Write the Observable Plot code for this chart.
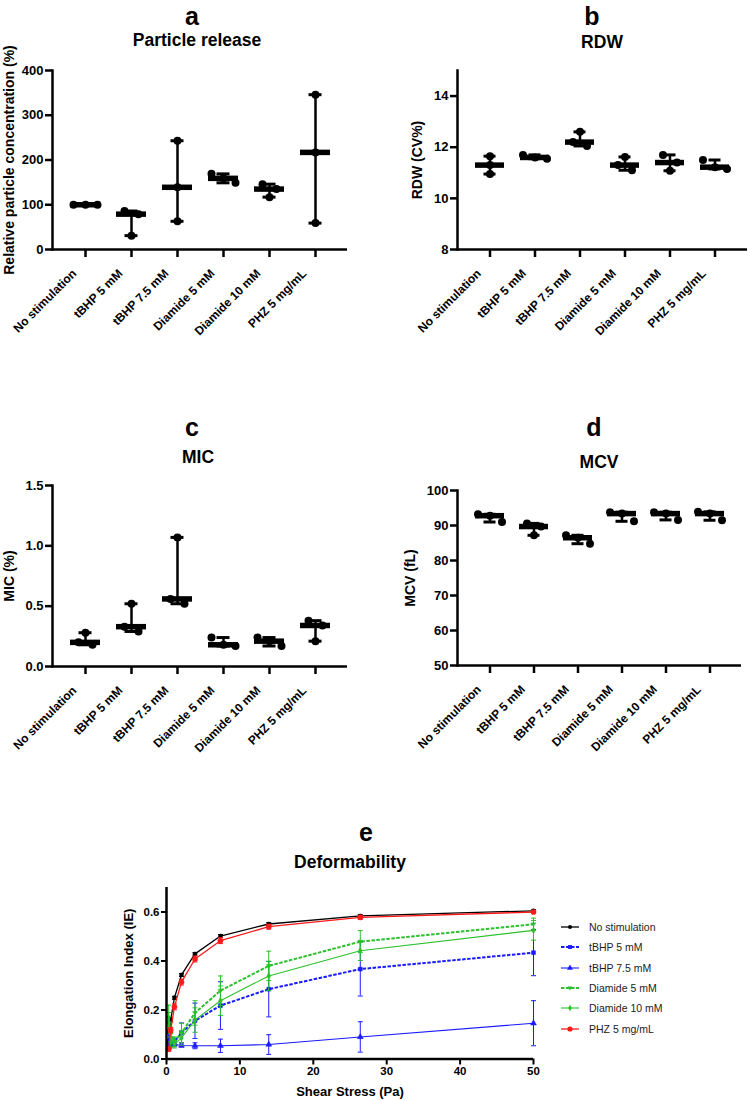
<!DOCTYPE html>
<html><head><meta charset="utf-8">
<script src="https://cdn.jsdelivr.net/npm/d3@7"></script>
<script src="https://cdn.jsdelivr.net/npm/@observablehq/plot@0.6"></script>
<style>
body{margin:0;background:#fff;font-family:"Liberation Sans",Arial,Helvetica,sans-serif;}
#page{position:relative;width:748px;height:1100px;overflow:hidden;background:#fff;}
.letter{position:absolute;font-weight:bold;font-size:25px;transform:translate(-50%,-50%);white-space:nowrap;line-height:1.15;color:#000;}
.sub{position:absolute;font-weight:bold;font-size:17.5px;transform:translate(-50%,-50%);white-space:nowrap;line-height:1.15;color:#000;}
.legend{position:absolute;font-size:10.5px;color:#222;}
.legend .row{display:flex;align-items:center;height:20.3px;}
.legend svg{margin-right:10px;}
</style></head>
<body><div id="page"></div>
<script>
// ---------- data ----------
const categories = ["No stimulation","tBHP 5 mM","tBHP 7.5 mM","Diamide 5 mM","Diamide 10 mM","PHZ 5 mg/mL"];
const particleRelease = [[100,100,100],[86,79,31],[243,139,63],[169,159,149],[146,135,117],[346,217,59]];
const rdw = [[11.65,11.3,10.95],[11.7,11.6,11.55],[12.6,12.2,12.05],[11.62,11.3,11.1],[11.7,11.4,11.08],[11.5,11.22,11.15]];
const mic = [[0.28,0.2,0.18],[0.52,0.33,0.29],[1.07,0.56,0.52],[0.24,0.18,0.17],[0.24,0.21,0.17],[0.38,0.34,0.21]];
const mcv = [[93.2,92.8,91.0],[90.6,89.7,87.2],[87.2,86.5,84.8],[93.8,93.4,91.2],[93.8,93.4,91.6],[93.9,93.4,91.5]];

const shearStress = [0.30,0.57,1.08,2.04,3.88,7.35,13.93,26.4,50];
const seriesNames = ["No stimulation","tBHP 5 mM","tBHP 7.5 mM","Diamide 5 mM","Diamide 10 mM","PHZ 5 mg/mL"];
const eiNoStim   = [0.07,0.159,0.25,0.343,0.429,0.502,0.551,0.584,0.605];
const sdNoStim   = [0.01,0.008,0.006,0.006,0.005,0.006,0.006,0.005,0.004];
const eiTbhp5    = [0.11,0.07,0.07,0.107,0.156,0.218,0.285,0.367,0.434];
const sdTbhp5    = [0.04,0.02,0.015,0.04,0.072,0.097,0.113,0.11,0.094];
const eiTbhp75   = [0.05,0.06,0.06,0.055,0.054,0.054,0.059,0.09,0.146];
const sdTbhp75   = [0.01,0.01,0.008,0.006,0.012,0.027,0.04,0.062,0.092];
const eiDiam5    = [0.17,0.10,0.07,0.106,0.188,0.279,0.38,0.479,0.55];
const sdDiam5    = [0.05,0.03,0.02,0.04,0.05,0.06,0.06,0.045,0.025];
const eiDiam10   = [0.15,0.07,0.06,0.086,0.159,0.238,0.339,0.442,0.525];
const sdDiam10   = [0.04,0.02,0.015,0.03,0.05,0.06,0.06,0.04,0.04];
const eiPhz      = [0.04,0.118,0.213,0.314,0.408,0.483,0.54,0.578,0.60];
const sdPhz      = [0.008,0.01,0.012,0.012,0.012,0.012,0.01,0.008,0.006];

// ---------- layout ----------
const FONT = '"Liberation Sans",Arial,Helvetica,sans-serif';
const page = document.getElementById("page");
function label(cls, text, x, y){ const d=document.createElement("div"); d.className=cls; d.textContent=text; d.style.left=x+"px"; d.style.top=y+"px"; page.appendChild(d); }

const INNER = 0.35;
function spreadOffsets(vals, pxPerUnit){
  // spread overlapping points horizontally (anti-overlap like the original software)
  const idx = vals.map((v,i)=>i).sort((a,b)=>vals[b]-vals[a]);
  const out = new Array(vals.length).fill(0);
  let cluster=[idx[0]];
  const clusters=[];
  for(let k=1;k<idx.length;k++){
    if(Math.abs(vals[idx[k-1]]-vals[idx[k]])*pxPerUnit < 8) cluster.push(idx[k]);
    else { clusters.push(cluster); cluster=[idx[k]]; }
  }
  clusters.push(cluster);
  for(const c of clusters){
    const offs = c.length===1?[0]:c.length===2?[-7,7]:[-12,0,12];
    c.forEach((i,j)=>out[i]=offs[j]);
  }
  return out;
}

function dotPanel(cfg){
  const fh = cfg.height - cfg.mT - cfg.mB;
  const pxPerUnit = fh/(cfg.domain[1]-cfg.domain[0]);
  const rows=[];
  categories.forEach((c,i)=>{
    const offs = spreadOffsets(cfg.values[i], pxPerUnit);
    cfg.values[i].forEach((v,j)=>rows.push({cat:c, v, off:offs[j]}));
  });
  const stats = categories.map((c,i)=>({cat:c, min:d3.min(cfg.values[i]), max:d3.max(cfg.values[i]), med:d3.median(cfg.values[i])}));
  const fw = cfg.width - cfg.mL - cfg.mR;
  const po = (fw/cfg.step - categories.length + INNER)/2;
  const offsets = Array.from(new Set(rows.map(r=>r.off)));
  const svg = Plot.plot({
    width: cfg.width, height: cfg.height,
    marginLeft: cfg.mL, marginRight: cfg.mR, marginTop: cfg.mT, marginBottom: cfg.mB,
    style: {fontFamily: FONT, fontSize: "12px", fontWeight: "bold", color: "#000", background: "transparent", overflow: "visible"},
    x: {type: "band", domain: categories, paddingInner: INNER, paddingOuter: po, label: null},
    y: {domain: cfg.domain, label: null},
    marks: [
      Plot.axisY({ticks: cfg.ticks, tickFormat: cfg.fmt, tickSize: 7, tickPadding: 2, strokeWidth: 2.5, fontSize: 13, label: null}),
      Plot.axisY({ticks: [], tickSize: 0, fontSize: 14, label: cfg.ylabel, labelAnchor: "center", labelArrow: "none", labelOffset: cfg.labelOffset}),
      Plot.axisX({tickSize: 8, tickFormat: () => "", strokeWidth: 2.5, label: null}),
      Plot.axisX({tickSize: 0, tickPadding: 10, tickRotate: -45, dx: -11, dy: 12, label: null}),
      Plot.frame({anchor: "left", strokeWidth: 2.5}),
      Plot.ruleY([cfg.domain[0]], {strokeWidth: 2.5}),
      Plot.ruleX(stats, {x: "cat", y1: "min", y2: "max", strokeWidth: 2.5}),
      Plot.tickY(stats, {x: "cat", y: "max", insetLeft: 8.5, insetRight: 8.5, strokeWidth: 3}),
      Plot.tickY(stats, {x: "cat", y: "min", insetLeft: 8.5, insetRight: 8.5, strokeWidth: 3}),
      ...offsets.map(o => Plot.dot(rows.filter(r=>r.off===o), {x: "cat", y: "v", r: 4, fill: "black", dx: o})),
      Plot.tickY(stats, {x: "cat", y: "med", strokeWidth: 5.5})
    ]
  });
  svg.style.position="absolute"; svg.style.left=cfg.left+"px"; svg.style.top=cfg.top+"px";
  page.appendChild(svg);
  label("letter", cfg.letter, cfg.letterPos[0], cfg.letterPos[1]);
  label("sub", cfg.title, cfg.titlePos[0], cfg.titlePos[1]);
}

dotPanel({letter:"a", title:"Particle release", ylabel:"Relative particle concentration (%)", values: particleRelease,
  domain:[0,400], ticks:[0,100,200,300,400], fmt:d3.format("d"),
  left:0, top:55, width:374, height:285, mL:52, mR:27, mT:15, mB:91, step:46.2, labelOffset:48,
  letterPos:[192,15.5], titlePos:[197,40]});
dotPanel({letter:"b", title:"RDW", ylabel:"RDW (CV%)", values: rdw,
  domain:[8,15], ticks:[8,10,12,14], fmt:d3.format("d"),
  left:374, top:55, width:374, height:285, mL:83, mR:1, mT:15, mB:91, step:45.8, labelOffset:45,
  letterPos:[592,15.5], titlePos:[602,42]});
dotPanel({letter:"c", title:"MIC", ylabel:"MIC (%)", values: mic,
  domain:[0,1.5], ticks:[0,0.5,1,1.5], fmt:d3.format(".1f"),
  left:0, top:470, width:374, height:285, mL:52, mR:27, mT:15, mB:89, step:46.2, labelOffset:48,
  letterPos:[192,427], titlePos:[198,457]});
dotPanel({letter:"d", title:"MCV", ylabel:"MCV (fL)", values: mcv,
  domain:[50,100], ticks:[50,60,70,80,90,100], fmt:d3.format("d"),
  left:374, top:470, width:374, height:285, mL:83, mR:7, mT:20, mB:90, step:44.4, labelOffset:52,
  letterPos:[594,427], titlePos:[599,462]});

// ---------- panel e ----------
const downTriangle = {draw(ctx, size){ const r=Math.sqrt(size/Math.PI)*1.2; ctx.moveTo(-r,-r*0.6); ctx.lineTo(r,-r*0.6); ctx.lineTo(0,r); ctx.closePath(); }};
const cap = {draw(ctx, size){ const w=Math.sqrt(size/Math.PI); ctx.moveTo(-w,0); ctx.lineTo(w,0); }};
const BLUE="#1a1aff", GREEN="#2cc02c", RED="#ff1a1a";
const styles = [
  {color:"#000", dash:null, sw:1.3, symbol:"circle", r:2},
  {color:BLUE, dash:"3.5,1.5", sw:2, symbol:"square", r:2.2},
  {color:BLUE, dash:null, sw:1.1, symbol:"triangle", r:2.2},
  {color:GREEN, dash:"3.5,1.5", sw:2, symbol:downTriangle, r:2},
  {color:GREEN, dash:null, sw:1.1, symbol:"diamond", r:2},
  {color:RED, dash:null, sw:1.3, symbol:"circle", r:2.6}
];
const eiAll = [eiNoStim, eiTbhp5, eiTbhp75, eiDiam5, eiDiam10, eiPhz];
const sdAll = [sdNoStim, sdTbhp5, sdTbhp75, sdDiam5, sdDiam10, sdPhz];
const seriesMarks = [];
seriesNames.forEach((name, s)=>{
  const st = styles[s];
  const d = shearStress.map((x,i)=>({x, y:eiAll[s][i], lo:eiAll[s][i]-sdAll[s][i], hi:eiAll[s][i]+sdAll[s][i]}));
  seriesMarks.push(
    Plot.ruleX(d, {x:"x", y1:"lo", y2:"hi", stroke:st.color, strokeWidth:1}),
    Plot.dot(d, {x:"x", y:"hi", symbol:cap, r:2.5, stroke:st.color, strokeWidth:1}),
    Plot.dot(d, {x:"x", y:"lo", symbol:cap, r:2.5, stroke:st.color, strokeWidth:1}),
    Plot.line(d, {x:"x", y:"y", stroke:st.color, strokeWidth:st.sw, strokeDasharray:st.dash, strokeLinecap:"butt", strokeLinejoin:"miter"}),
    Plot.dot(d, {x:"x", y:"y", symbol:st.symbol, r:st.r, fill:st.color, stroke:st.color, strokeWidth:0.5})
  );
});
const svgE = Plot.plot({
  width:648, height:230, marginLeft:66, marginRight:215, marginTop:17, marginBottom:41.5,
  style:{fontFamily:FONT, fontSize:"11px", fontWeight:"bold", color:"#000", background:"transparent", overflow:"visible"},
  x:{domain:[0,50], label:null}, y:{domain:[0,0.7], label:null},
  marks:[
    Plot.axisY({ticks:[0,0.2,0.4,0.6], tickFormat:d3.format(".1f"), tickSize:5, tickPadding:2, strokeWidth:2, fontSize:11.5, label:null}),
    Plot.axisY({ticks:[], tickSize:0, fontSize:13, label:"Elongation Index (IE)", labelAnchor:"center", labelArrow:"none", labelOffset:43}),
    Plot.axisX({ticks:[0,10,20,30,40,50], tickSize:6, tickPadding:2, strokeWidth:2, fontSize:11.5, label:null}),
    Plot.axisX({ticks:[], tickSize:0, fontSize:13, label:"Shear Stress (Pa)", labelAnchor:"center", labelArrow:"none", labelOffset:37}),
    ...seriesMarks,
    Plot.ruleX([0], {strokeWidth:2.5}),
    Plot.ruleY([0], {strokeWidth:2.5})
  ]
});
svgE.style.position="absolute"; svgE.style.left="100px"; svgE.style.top="870px";
page.appendChild(svgE);
label("letter", "e", 366, 832);
label("sub", "Deformability", 350, 862);

// legend
const leg = document.createElement("div"); leg.className="legend"; leg.style.left="561px"; leg.style.top="917px";
seriesNames.forEach((name,s)=>{
  const st = styles[s];
  const row = document.createElement("div"); row.className="row";
  const ns="http://www.w3.org/2000/svg";
  const sv = document.createElementNS(ns,"svg"); sv.setAttribute("width","18"); sv.setAttribute("height","10");
  const ln = document.createElementNS(ns,"line"); ln.setAttribute("x1","0"); ln.setAttribute("x2","18"); ln.setAttribute("y1","5"); ln.setAttribute("y2","5");
  ln.setAttribute("stroke", st.color); ln.setAttribute("stroke-width", st.sw); if(st.dash) ln.setAttribute("stroke-dasharray", st.dash);
  sv.appendChild(ln);
  const p = document.createElementNS(ns,"path");
  const sym = typeof st.symbol==="string" ? {circle:d3.symbolCircle, square:d3.symbolSquare, triangle:d3.symbolTriangle, diamond:d3.symbolDiamond}[st.symbol] : st.symbol;
  p.setAttribute("d", d3.symbol(sym, Math.PI*st.r*st.r)());
  p.setAttribute("transform","translate(9,5)"); p.setAttribute("fill", st.color);
  sv.appendChild(p);
  row.appendChild(sv);
  const t=document.createElement("span"); t.textContent=name; row.appendChild(t);
  leg.appendChild(row);
});
page.appendChild(leg);
</script></body></html>
